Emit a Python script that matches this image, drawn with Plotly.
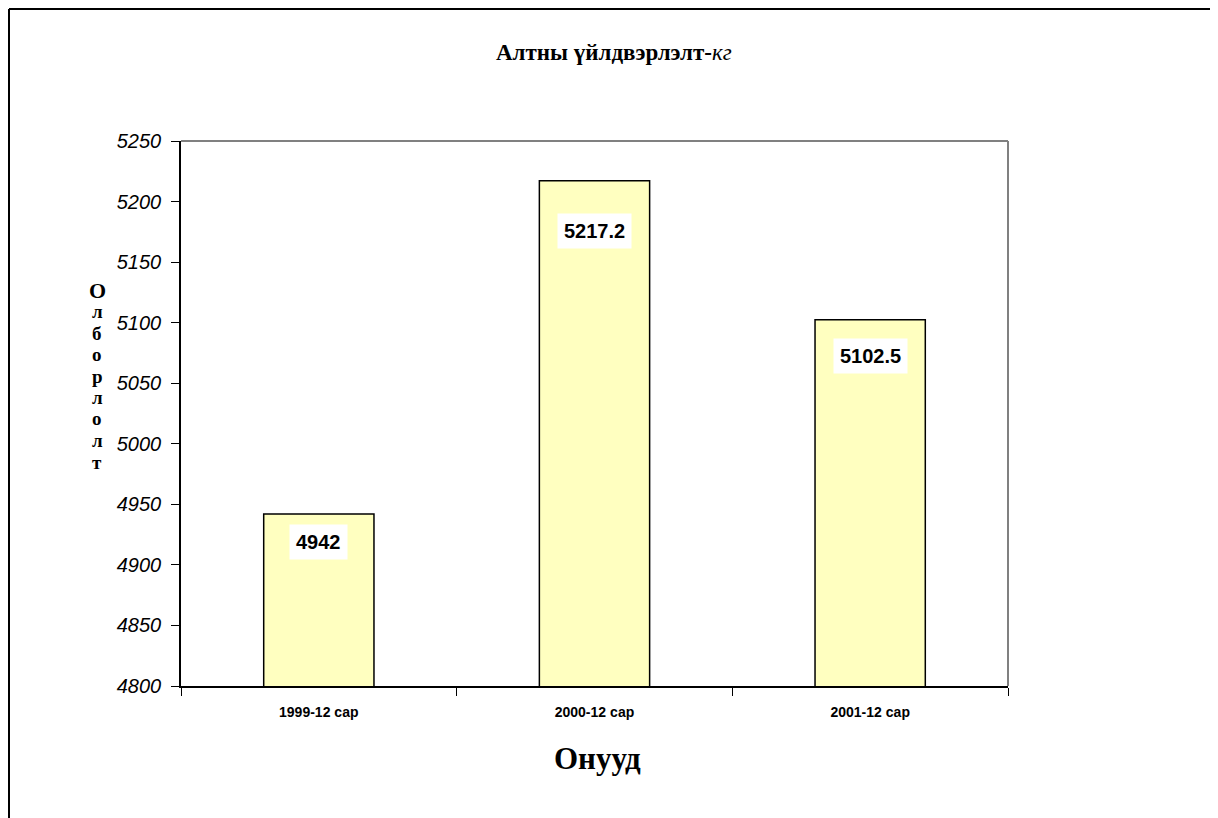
import plotly.graph_objects as go

categories = ["1999-12 сар", "2000-12 сар", "2001-12 сар"]
values = [4942, 5217.2, 5102.5]
value_labels = ["4942", "5217.2", "5102.5"]
y_ticks = [4800, 4850, 4900, 4950, 5000, 5050, 5100, 5150, 5200, 5250]

OFF = 8  # page body margin
W, H = 1210, 810
L, T = 173, 133
pw, ph = 827, 545
R, B = W - L - pw, H - T - ph

def px_x(p):
    return (p - OFF - L) / pw

def px_y(p):
    return (T + ph - (p - OFF)) / ph

fig = go.Figure()
fig.add_trace(go.Bar(
    x=categories, y=values, width=0.4,
    marker=dict(color="#FFFFC0", line=dict(color="black", width=1.5)),
    showlegend=False, hoverinfo="skip"
))

label_shift = [-28, -50, -36]
for c, v, t, s in zip(categories, values, value_labels, label_shift):
    fig.add_annotation(x=c, y=v, text="<b>%s</b>" % t, showarrow=False, yshift=s,
                       xanchor="center", yanchor="middle",
                       bgcolor="white", borderpad=6,
                       font=dict(family="Liberation Sans, Arial", size=20, color="black"))

serif = "Liberation Serif, Times New Roman"
# title
fig.add_annotation(xref="paper", yref="paper", x=px_x(614), y=px_y(52),
                   xanchor="center", yanchor="middle",
                   text="<b>Алтны үйлдвэрлэлт-</b><i>кг</i>", showarrow=False,
                   font=dict(family=serif, size=23, color="black"))
# y title stacked letters
letters = list("Олборлолт")
for i, ch in enumerate(letters):
    fig.add_annotation(xref="paper", yref="paper", x=px_x(97), y=px_y(290 + i * 21.5),
                       xanchor="center", yanchor="middle",
                       text="<b>%s</b>" % ch, showarrow=False,
                       font=dict(family=serif, size=22 if i == 0 else 19, color="black"))
# x title
fig.add_annotation(xref="paper", yref="paper", x=px_x(597), y=px_y(758),
                   xanchor="center", yanchor="middle",
                   text="<b>Онууд</b>", showarrow=False,
                   font=dict(family=serif, size=31, color="black"))

shapes = [
    dict(type="line", xref="paper", yref="paper", x0=0, x1=1, y0=1, y1=1,
         line=dict(color="#808080", width=2)),
    dict(type="line", xref="paper", yref="paper", x0=1, x1=1, y0=0, y1=1,
         line=dict(color="#808080", width=2)),
    dict(type="line", xref="paper", yref="paper", x0=px_x(9), x1=px_x(1230), y0=px_y(9), y1=px_y(9),
         line=dict(color="black", width=2)),
    dict(type="line", xref="paper", yref="paper", x0=px_x(9), x1=px_x(9), y0=px_y(9), y1=px_y(830),
         line=dict(color="black", width=2)),
]

fig.update_layout(
    width=W, height=H,
    margin=dict(l=L, r=R, t=T, b=B),
    paper_bgcolor="white", plot_bgcolor="white",
    shapes=shapes,
    xaxis=dict(type="category", showline=True, linecolor="black", linewidth=1.5,
               ticks="outside", tickson="boundaries", ticklen=8, tickcolor="black",
               showgrid=False, zeroline=False, ticklabelstandoff=12,
               tickfont=dict(family="Liberation Sans, Arial", size=14,
                             color="black", weight="bold")),
    yaxis=dict(range=[4800, 5250], tickvals=y_ticks, showline=True, linecolor="black",
               linewidth=1.5, ticks="outside", ticklen=8, tickcolor="black",
               showgrid=False, zeroline=False, ticklabelstandoff=6,
               tickfont=dict(family="Liberation Sans, Arial", size=20, color="black",
                             style="italic")),
)

fig.write_html("out.html")
